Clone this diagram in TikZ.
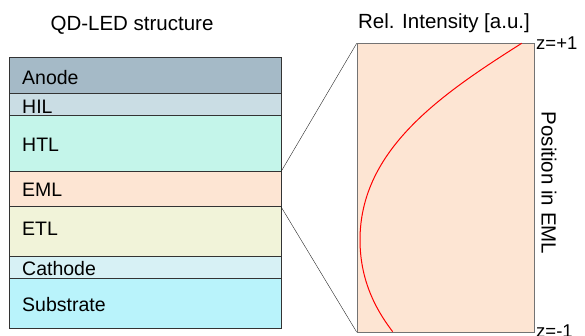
\documentclass[tikz,border=0pt]{standalone}
\usepackage{fontspec}
\setmainfont{Liberation Sans}
\usepackage{xcolor}
\definecolor{anodec}{HTML}{A5BAC7}
\definecolor{hilc}{HTML}{CADDE4}
\definecolor{htlc}{HTML}{C4F5EA}
\definecolor{emlc}{HTML}{FDE5D3}
\definecolor{etlc}{HTML}{F1F3D9}
\definecolor{cathc}{HTML}{D7F1F5}
\definecolor{subc}{HTML}{B9F3FB}
\tikzset{
  layerlbl/.style={anchor=base west,font=\fontsize{19.5}{19.5}\selectfont,inner sep=0pt},
  titlelbl/.style={font=\fontsize{20.5}{20.5}\selectfont,inner sep=0pt},
  zlbl/.style={anchor=west,font=\fontsize{18.5}{18.5}\selectfont,inner sep=0pt}
}

\begin{document}
\begin{tikzpicture}[x=1pt,y=-1pt]
\useasboundingbox (0,0) rectangle (585,336);
\fill[anodec] (9,57.3) rectangle (281,93.3); % Anode
\fill[hilc] (9,93.3) rectangle (281,115.7); % HIL
\fill[htlc] (9,115.7) rectangle (281,171.7); % HTL
\fill[emlc] (9,171.7) rectangle (281,206.7); % EML
\fill[etlc] (9,206.7) rectangle (281,256); % ETL
\fill[cathc] (9,256) rectangle (281,277.7); % Cathode
\fill[subc] (9,277.7) rectangle (281,327.7); % Substrate
\foreach \y in {93.3,115.7,171.7,206.7,256,277.7}
  \draw[black!80,thin] (9,\y) -- (281,\y);
\draw[black!80] (9,57.3) rectangle (281,327.7);

% Labels
\node[titlelbl] (title) at (132,25) {QD-LED structure};
\node[layerlbl] (anode) at (22,85) {Anode};
\node[layerlbl] (hil) at (22,113.5) {HIL};
\node[layerlbl] (htl) at (22,152) {HTL};
\node[layerlbl] (eml) at (22,197) {EML};
\node[layerlbl] (etl) at (22,236) {ETL};
\node[layerlbl] (cathode) at (22,275) {Cathode};
\node[layerlbl] (substrate) at (22,311) {Substrate};

% Zoomed EML
\coordinate (emltop) at (281,171.7);
\coordinate (emlbot) at (281,206.7);
\node[draw=black!55,fill=emlc,minimum width=177.3pt,minimum height=288.4pt,
  inner sep=0pt,anchor=north west] (zoom) at (356.7,43.3) {};
\draw[black!85] (emltop) -- (zoom.north west);
\draw[black!85] (emlbot) -- (zoom.south west);
\draw[red,line width=1pt] (521.7,43.3) .. controls (440,95) and (360,150) .. (360,240)
  .. controls (360,285) and (380,315) .. (392.7,331.7);

\node[titlelbl] (intensity) at (444,23) {Rel. Intensity [a.u.]};
\node[zlbl] (zplus) at (536,43.3) {z=+1};
\node[zlbl] (zminus) at (536,331) {z=-1};
\node[titlelbl,rotate=-90] (pos) at (549,183) {Position in EML};
\end{tikzpicture}
\end{document}
